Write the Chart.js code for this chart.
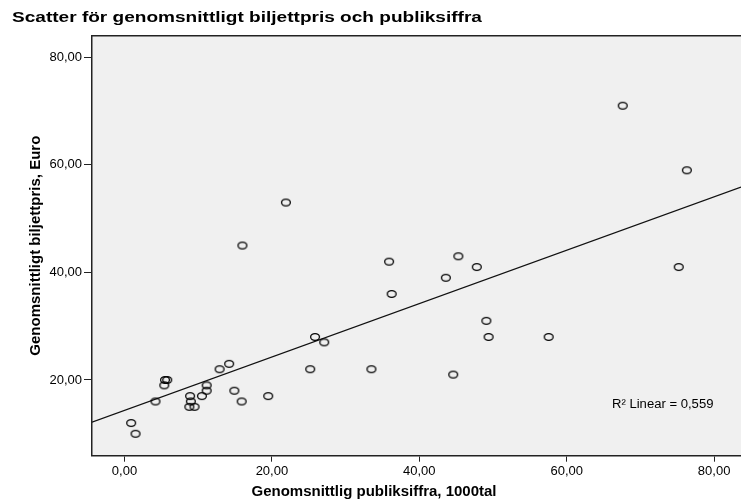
<!DOCTYPE html>
<html>
<head>
<meta charset="utf-8">
<script src="https://cdn.jsdelivr.net/npm/chart.js@4"></script>
<style>
  html, body { margin: 0; padding: 0; background: #fff; overflow: hidden; }
  #chart { display: block; }
</style>
</head>
<body>
<canvas id="chart" width="741" height="501"></canvas>
<script>
// publiksiffra (1000tal) and biljettpris (Euro)
const publik = [
  0.9, 1.5, 4.2, 5.4, 5.5, 5.8, 8.9, 9.0, 8.8, 9.5, 10.5, 11.15, 11.15, 12.9, 14.2, 14.9, 15.9, 19.5,
  16.0, 21.9, 25.2, 25.85, 27.1, 33.5, 35.9, 36.25, 43.6, 44.6, 45.3, 47.8, 49.1, 49.4, 57.55, 67.6, 75.2, 76.3
];
const biljettpris = [
  12, 10, 16, 19, 20, 20, 17, 16, 15, 15, 17, 19, 18, 22, 23, 18, 16, 17,
  45, 53, 22, 28, 27, 22, 42, 36, 39, 21, 43, 41, 31, 28, 28, 71, 41, 59
];
const xTicks = [0, 20, 40, 60, 80];
const yTicks = [20, 40, 60, 80];
const X_MIN = -4.41, X_MAX = 83.65;
const Y_MIN = 5.92, Y_MAX = 84.02;
const R2_TEXT = "R\u00B2 Linear = 0,559";

const TITLE = "Scatter för genomsnittligt biljettpris och publiksiffra";
const X_TITLE = "Genomsnittlig publiksiffra, 1000tal";
const Y_TITLE = "Genomsnittligt biljettpris, Euro";
const FONT = "'Liberation Sans', Arial, sans-serif";

// least squares fit for the linear line
function linearFit(xs, ys) {
  const n = xs.length;
  const mx = xs.reduce((a, b) => a + b, 0) / n;
  const my = ys.reduce((a, b) => a + b, 0) / n;
  let sxy = 0, sxx = 0;
  for (let i = 0; i < n; i++) {
    sxy += (xs[i] - mx) * (ys[i] - my);
    sxx += (xs[i] - mx) * (xs[i] - mx);
  }
  const slope = sxy / sxx;
  return { slope: slope, intercept: my - slope * mx };
}

const fit = linearFit(publik, biljettpris);
const points = publik.map((x, i) => ({ x: x, y: biljettpris[i] }));
const fitLine = [X_MIN, X_MAX].map((x) => ({ x: x, y: fit.intercept + fit.slope * x }));

function fmt(v) {
  return v.toFixed(2).replace(".", ",");
}

// open ellipse marker like the SPSS output
const marker = document.createElement("canvas");
marker.width = 12;
marker.height = 10;
(function () {
  const m = marker.getContext("2d");
  m.strokeStyle = "#000";
  m.lineWidth = 1.3;
  m.beginPath();
  m.ellipse(6, 5, 4.4, 3.4, 0, 0, Math.PI * 2);
  m.stroke();
})();

// text drawn a bit wider, the SPSS export is stretched sideways
function wideText(ctx, text, x, y, sx, align) {
  ctx.save();
  ctx.translate(x, y);
  ctx.scale(sx, 1);
  ctx.textAlign = align;
  ctx.fillText(text, 0, 0);
  ctx.restore();
}

const framePlugin = {
  id: "frame",
  beforeDraw(chart) {
    const { ctx, chartArea: a } = chart;
    ctx.save();
    ctx.fillStyle = "#fff";
    ctx.fillRect(0, 0, chart.width, chart.height);
    ctx.fillStyle = "#f0f0f0";
    ctx.fillRect(a.left, a.top, a.right - a.left, a.bottom - a.top);
    ctx.restore();
  },
  afterDraw(chart) {
    const { ctx, chartArea: a } = chart;
    ctx.save();
    ctx.strokeStyle = "#222";
    ctx.lineWidth = 1.5;
    ctx.beginPath();
    ctx.moveTo(a.left, a.top);
    ctx.lineTo(a.right, a.top);
    ctx.stroke();

    ctx.fillStyle = "#000";
    ctx.textBaseline = "middle";
    ctx.font = "bold 15px " + FONT;
    wideText(ctx, TITLE, 12, 18, 1.27, "left");
    wideText(ctx, X_TITLE, 374, 492, 1, "center");

    ctx.font = "12px " + FONT;
    wideText(ctx, R2_TEXT, 612, 405, 1.09, "left");
    ctx.restore();
  },
};

const ctx = document.getElementById("chart").getContext("2d");

new Chart(ctx, {
  type: "scatter",
  data: {
    datasets: [
      {
        label: "Biljettpris",
        data: points,
        pointStyle: marker,
        pointRadius: 5,
        pointHoverRadius: 5,
      },
      {
        type: "line",
        label: "Linear",
        data: fitLine,
        borderColor: "#111",
        borderWidth: 1.2,
        pointRadius: 0,
        fill: false,
      },
    ],
  },
  options: {
    responsive: false,
    animation: false,
    layout: { autoPadding: false, padding: { left: 12, right: 0, top: 35.7, bottom: 0 } },
    plugins: {
      legend: { display: false },
      tooltip: { enabled: false },
      title: { display: false },
    },
    scales: {
      x: {
        type: "linear",
        min: X_MIN,
        max: X_MAX,
        afterBuildTicks: (scale) => {
          scale.ticks = xTicks.map((v) => ({ value: v }));
        },
        afterFit: (scale) => {
          scale.height = 45.3;
          scale.paddingLeft = 0;
          scale.paddingRight = 0;
        },
        ticks: {
          color: "#000",
          font: { family: FONT, size: 13 },
          padding: 2,
          maxRotation: 0,
          callback: (v) => fmt(v),
        },
        grid: { drawOnChartArea: false, drawTicks: true, tickLength: 6, color: "#222" },
        border: { display: true, color: "#222", width: 1.5 },
        title: { display: false },
      },
      y: {
        type: "linear",
        min: Y_MIN,
        max: Y_MAX,
        afterBuildTicks: (scale) => {
          scale.ticks = yTicks.map((v) => ({ value: v }));
        },
        afterFit: (scale) => {
          scale.width = 80;
          scale.paddingTop = 0;
          scale.paddingBottom = 0;
        },
        ticks: {
          color: "#000",
          font: { family: FONT, size: 13 },
          padding: 2,
          callback: (v) => fmt(v),
        },
        grid: { drawOnChartArea: false, drawTicks: true, tickLength: 8, color: "#222" },
        border: { display: true, color: "#222", width: 1.5 },
        title: {
          display: true,
          text: Y_TITLE,
          color: "#000",
          font: { family: FONT, size: 15, weight: "bold" },
          padding: { top: 15, bottom: 0 },
        },
      },
    },
  },
  plugins: [framePlugin],
});
</script>
</body>
</html>
